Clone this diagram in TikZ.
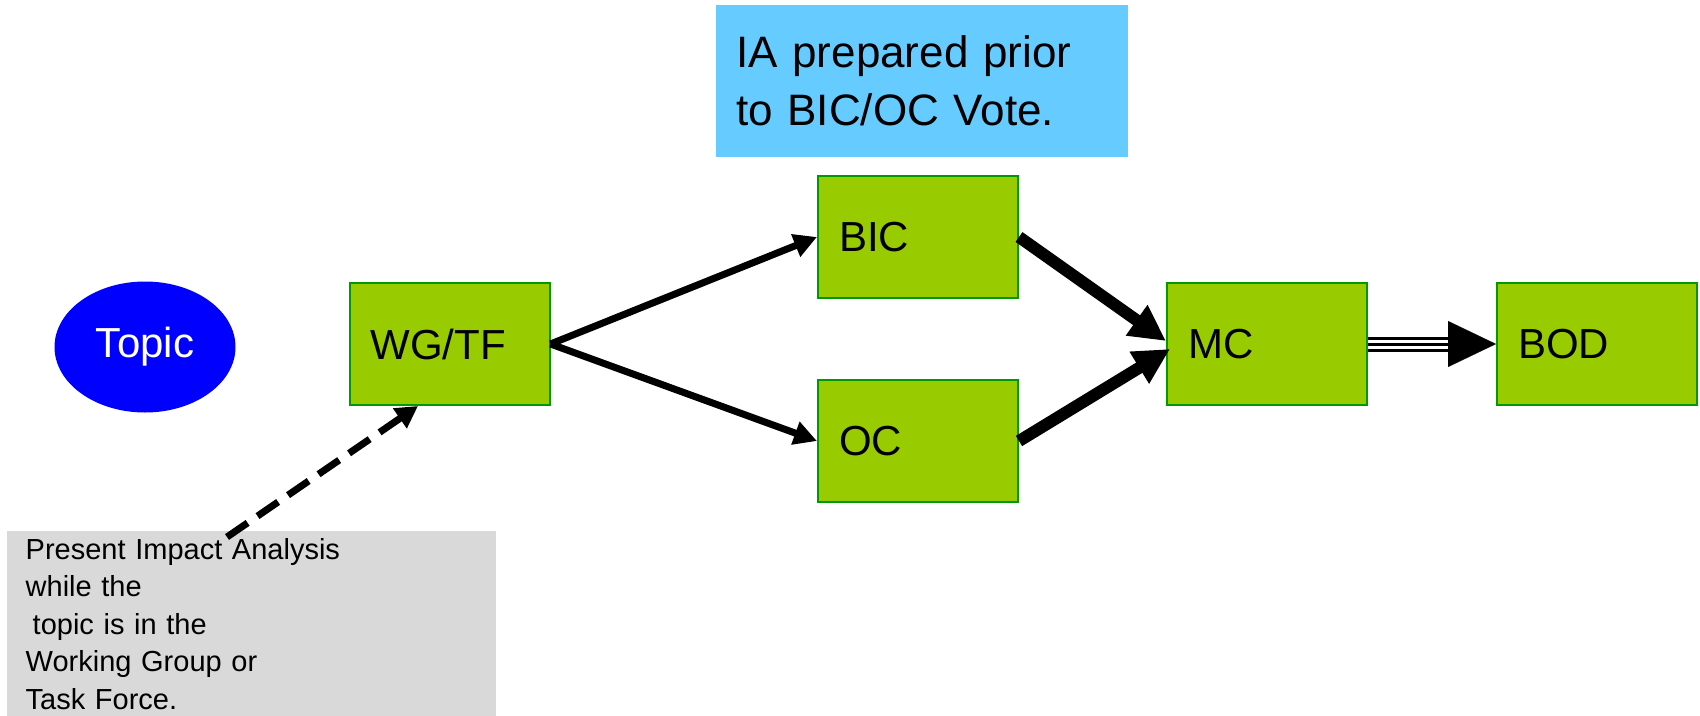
\documentclass[tikz,border=0pt]{standalone}
\usepackage{fontspec}
\setmainfont{Liberation Sans}
\usetikzlibrary{arrows.meta,shapes.geometric}
\definecolor{stagegreen}{HTML}{99CC00}
\definecolor{stageedge}{HTML}{009900}
\definecolor{iablue}{HTML}{66CCFF}
\definecolor{notegray}{HTML}{D9D9D9}
\tikzset{
	stage/.style={draw=stageedge, line width=2pt, fill=stagegreen, minimum width=200pt, minimum height=122pt, text width=158pt, inner xsep=21pt, align=left, font=\fontsize{42}{50}\selectfont},
	flow/.style={line width=7pt, -{Triangle[length=23pt,width=23pt]}},
	vote/.style={line width=12pt, -{Triangle[length=36pt,width=35pt]}},
}
\begin{document}
\begin{tikzpicture}[x=1pt,y=-1pt]
		\useasboundingbox (0,0) rectangle (1700,715);
		\node[ellipse, fill=blue, minimum width=181pt, minimum height=131pt, inner sep=0pt, text=white, font=\fontsize{42}{50}\selectfont] (topic) at (145,347) {Topic};
		\node[stage] (wg) at (449.5,344) {WG/TF};
		\node[stage] (bic) at (918,237) {BIC};
		\node[stage] (oc) at (918,441) {OC};
		\node[stage] (mc) at (1267,344) {MC};
		\node[stage] (bod) at (1597,344) {BOD};
		\node[fill=iablue, anchor=north west, minimum width=412pt, minimum height=152pt, text width=372pt, inner xsep=20pt, align=left, font=\fontsize{44}{58}\selectfont] (ia) at (716,5) {IA prepared prior\\to BIC/OC Vote.};
		\node[fill=notegray, anchor=north west, text width=452pt, inner xsep=18.5pt, inner ysep=7pt, align=left, font=\fontsize{29}{37.5}\selectfont] (note) at (7,531) {Present Impact Analysis\\while the\\\hspace*{7pt}topic is in the\\Working Group or\\Task Force.};
		\coordinate (notetail) at (227,537);
		\draw[flow] (wg.east) -- (bic.west);
		\draw[flow] (wg.east) -- (oc.west);
		\draw[vote] (bic.east) -- ([yshift=3pt]mc.west);
		\draw[vote] (oc.east) -- ([xshift=4pt,yshift=-5pt]mc.west);
		\draw[line width=15pt, postaction={draw, white, line width=9pt}, postaction={draw, black, line width=3pt}] (mc.east) -- ([xshift=-46pt]bod.west);
		\draw[line width=0.1pt, -{Triangle[length=48pt,width=46pt]}] ([xshift=-48pt]bod.west) -- (bod.west);
		\draw[line width=7pt, dash pattern=on 25pt off 12pt, -{Triangle[length=22pt,width=23pt]}] (notetail) -- ([xshift=-31.5pt]wg.south);
	\end{tikzpicture}
\end{document}
